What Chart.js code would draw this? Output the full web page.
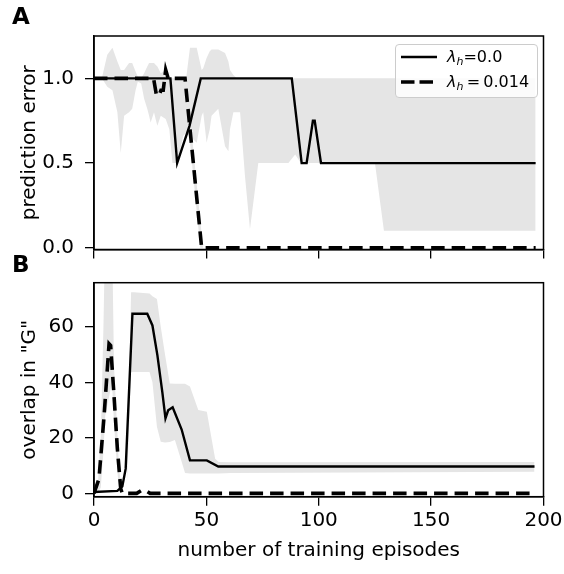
<!DOCTYPE html>
<html>
<head>
<meta charset="utf-8">
<script src="https://cdn.jsdelivr.net/npm/chart.js@4.4.0/dist/chart.umd.min.js"></script>
<style>
  body { margin: 0; background: #fff; font-family: "DejaVu Sans", sans-serif; }
  #wrap { position: relative; width: 564px; height: 574px; overflow: hidden; }
  canvas { position: absolute; left: 0; }
  #chartA { top: 0; }
  #chartB { top: 260px; }
  .panel-label { position: absolute; left: 12px; font-weight: bold; font-size: 23px; line-height: 1; }
  #legend { position: absolute; left: 395px; top: 44px; width: 141px; height: 52px;
            border: 1px solid #cccccc; border-radius: 4px; background: rgba(255,255,255,0.85); }
  .row { position: absolute; left: 0; height: 24px; width: 141px; }
  .row svg { position: absolute; left: 5px; top: 8px; }
  .row span { position: absolute; left: 51px; top: 0; font-size: 16px; line-height: 24px; white-space: nowrap; }
  .row sub { font-size: 11px; vertical-align: -3px; font-style: italic; }
</style>
</head>
<body>
<div id="wrap">
  <canvas id="chartA" width="564" height="260"></canvas>
  <canvas id="chartB" width="564" height="314"></canvas>
  <div class="panel-label" style="top:5px;">A</div>
  <div class="panel-label" style="top:253px;">B</div>
  <div id="legend">
    <div class="row" style="top:0px;">
      <svg width="36" height="8"><line x1="0" y1="4" x2="36" y2="4" stroke="#000" stroke-width="2.4"/></svg>
      <span><i>λ</i><sub>h</sub>=0.0</span>
    </div>
    <div class="row" style="top:25px;">
      <svg width="36" height="8"><line x1="0" y1="4" x2="36" y2="4" stroke="#000" stroke-width="3.6" stroke-dasharray="13.5 5"/></svg>
      <span><i>λ</i><sub>h</sub>&#8201;=&#8201;0.014</span>
    </div>
  </div>
</div>
<script>
// Achsen-Ticks
const xTickValues = [0, 50, 100, 150, 200];
const errTicks = [0, 0.5, 1.0];
const overlapTicks = [0, 20, 40, 60];

// Panel A: prediction error, lambda_h = 0.0 (durchgezogen)
const solidX_A = [0, 34, 37, 42.5, 47.5, 88, 92.4, 94.6, 97.4, 98.2, 101, 196.5];
const solidErr = [1, 1, 0.5, 0.72, 1, 1, 0.5, 0.5, 0.75, 0.75, 0.5, 0.5];

// Panel A: lambda_h = 0.014 (gestrichelt)
const dashX_A = [0, 26.5, 27.8, 29, 29.8, 30.8, 31.9, 33, 40.5, 47.9, 196.5];
const dashErr = [1, 1, 0.9, 0.9, 0.93, 0.93, 1.05, 1, 1, 0, 0];

// Panel A: graues Band
const bandX_A = [0, 3.5, 5.9, 8.2, 10.4, 11.9, 13.4, 15.6, 17, 18.5, 19.5, 21, 22.3, 23.7, 24.5, 25.2, 26.7, 27.4,
                 28.2, 29.7, 31.9, 33.5, 34.9, 37, 39.7, 41, 42.7, 45.7, 47.9, 48.6, 50.1, 51.5, 52.3, 55.3, 58.3,
                 59.8, 60.5, 62, 63.5, 65, 67.2, 69.4, 73.1, 86.5, 89.5, 92, 125, 129, 196.5];
const bandUpper_A = [1, 1, 1.14, 1.18, 1.10, 1.05, 1.05, 1.09, 1.09, 1.04, 1.01, 1.0, 1.03, 1.07, 1.09, 1.09, 1.09, 1.08,
                     1.07, 1.03, 1.05, 1.0, 1.0, 1.0, 1.0, 1.0, 1.18, 1.18, 1.05, 1.06, 1.12, 1.16, 1.17, 1.17, 1.15,
                     1.10, 1.05, 1.02, 1.0, 1.0, 1.0, 1.0, 1.0, 1.0, 1.0, 1.0, 1.0, 1.0, 1.0];
const bandLower_A = [1, 1, 0.95, 0.93, 0.80, 0.56, 0.78, 0.80, 0.82, 0.93, 0.98, 0.97, 0.88, 0.82, 0.78, 0.74, 0.80, 0.76,
                     0.72, 0.78, 0.76, 0.70, 0.50, 0.50, 0.66, 0.68, 0.66, 0.62, 0.78, 0.80, 0.62, 0.70, 0.78, 0.82, 0.60,
                     0.57, 0.70, 0.80, 0.80, 0.80, 0.42, 0.11, 0.50, 0.50, 0.55, 0.50, 0.50, 0.10, 0.10];
const haloX_A = [39.9, 41.1, 47.3, 48.5];
const haloUpper_A = [1.0, 1.0, 0.16, 0.0];
const haloLower_A = [1.0, 0.84, 0.0, 0.0];

// Panel B: overlap in "G"
const solidX_B = [0, 10.4, 12.6, 14.1, 17.1, 23.7, 26, 28.2, 30.4, 31.8, 33, 35, 39, 42.7, 50.2, 55.3, 196];
const solidOverlap = [0.5, 0.9, 2.5, 8.9, 64.7, 64.7, 60.5, 49.8, 36.5, 27, 29.9, 31, 23, 11.9, 11.9, 9.7, 9.7];
const dashX_B = [0, 2.2, 4.5, 6.7, 7.4, 8.9, 10.4, 11.9, 12.6, 19, 21, 23, 25, 196];
const dashOverlap = [0, 5.2, 28, 53.9, 53.3, 35.3, 16.1, 1.6, 0, 0, 1, 1, 0, 0];

const bandX_B = [14.5, 16.5, 17.8, 24.7, 26, 28, 29.7, 31.6, 33.7, 36, 39, 40.5, 42.7, 46.4, 50.2, 53.9, 55.5, 61, 196];
const bandUpper_B = [1, 72.5, 72.5, 72, 71, 70, 60, 50, 39.6, 39.5, 39.5, 39.5, 38.5, 30, 29.4, 12.5, 11.3, 11.2, 11.3];
const bandLower_B = [0, 43.7, 43.7, 43.7, 40, 24, 18.6, 18.3, 18.5, 19.2, 11.4, 7.3, 7.2, 7.2, 7.2, 7.2, 7.2, 7.3, 7.8];
const haloX_B = [1.5, 3, 4.2, 5, 8, 8.9, 10.4, 11.1, 12.4];
const haloUpper_B = [0, 20, 60, 95, 95, 46, 22, 9.6, 0];
const haloLower_B = [0, 2, 15, 28, 40, 25, 8, 2, 0];

Chart.defaults.font.family = "'DejaVu Sans'";
Chart.defaults.color = '#000';

const bandGrey = '#e5e5e5';

function toPoints(xs, ys) {
    return xs.map((x, i) => ({ x: x, y: ys[i] }));
}

function lineSet(xs, ys, dashed) {
    return {
        data: toPoints(xs, ys),
        borderColor: '#000',
        borderWidth: dashed ? 3.6 : 2.4,
        borderDash: dashed ? [13.5, 7] : [],
        pointRadius: 0,
        tension: 0,
        fill: false
    };
}

function bandSets(xs, upper, lower) {
    return [
        { data: toPoints(xs, upper), borderColor: 'rgba(0,0,0,0)', borderWidth: 0, pointRadius: 0,
          backgroundColor: bandGrey, fill: '+1' },
        { data: toPoints(xs, lower), borderColor: 'rgba(0,0,0,0)', borderWidth: 0, pointRadius: 0, fill: false }
    ];
}

// Rahmen um den Plotbereich (alle vier Seiten)
const frameBox = {
    id: 'frameBox',
    afterDatasetsDraw(chart) {
        const a = chart.chartArea;
        const ctx = chart.ctx;
        ctx.save();
        ctx.strokeStyle = '#000';
        ctx.lineWidth = 1.5;
        ctx.strokeRect(a.left, a.top, a.right - a.left, a.bottom - a.top);
        ctx.restore();
    }
};

// Achsengroessen fix setzen, Label-Ueberstand nicht einrechnen
function fixSize(prop, size) {
    return s => {
        s[prop] = size;
        s.paddingTop = 0; s.paddingBottom = 0; s.paddingLeft = 0; s.paddingRight = 0;
    };
}

function makeOptions(yMin, yMax, yTicks, yTitle, yFmt, showX, xHeight, pad) {
    return {
        responsive: false,
        animation: false,
        devicePixelRatio: 1,
        layout: { padding: pad },
        plugins: {
            legend: { display: false },
            tooltip: { enabled: false },
            filler: { drawTime: 'beforeDatasetsDraw' }
        },
        scales: {
            x: {
                type: 'linear',
                min: 0,
                max: 200,
                afterBuildTicks: s => { s.ticks = xTickValues.map(v => ({ value: v })); },
                afterFit: fixSize('height', xHeight),
                grid: { drawOnChartArea: false, color: '#000', lineWidth: 1.3, tickLength: 9 },
                border: { display: true, color: '#000', width: 1.5 },
                ticks: { display: showX, font: { size: 20 }, padding: 3, maxRotation: 0,
                         callback: v => String(v) },
                title: { display: showX, text: 'number of training episodes', font: { size: 20 },
                         padding: { top: 0, bottom: 11 } }
            },
            y: {
                min: yMin,
                max: yMax,
                afterBuildTicks: s => { s.ticks = yTicks.map(v => ({ value: v })); },
                afterFit: fixSize('width', 94),
                grid: { drawOnChartArea: false, color: '#000', lineWidth: 1.3, tickLength: 9 },
                border: { display: true, color: '#000', width: 1.5 },
                ticks: { font: { size: 20 }, padding: 11, callback: yFmt },
                title: { display: true, text: yTitle, font: { size: 20 }, padding: { top: 18, bottom: 0 } }
            }
        }
    };
}

new Chart(document.getElementById('chartA'), {
    type: 'line',
    data: {
        datasets: [
            lineSet(dashX_A, dashErr, true),
            lineSet(solidX_A, solidErr, false),
            ...bandSets(bandX_A, bandUpper_A, bandLower_A),
            ...bandSets(haloX_A, haloUpper_A, haloLower_A)
        ]
    },
    options: makeOptions(-0.01, 1.25, errTicks, 'prediction error', v => v.toFixed(1), false, 10.5,
                         { left: 0, right: 20.5, top: 36, bottom: 0 }),
    plugins: [frameBox]
});

new Chart(document.getElementById('chartB'), {
    type: 'line',
    data: {
        datasets: [
            lineSet(dashX_B, dashOverlap, true),
            lineSet(solidX_B, solidOverlap, false),
            ...bandSets(bandX_B, bandUpper_B, bandLower_B),
            ...bandSets(haloX_B, haloUpper_B, haloLower_B)
        ]
    },
    options: makeOptions(-1.2, 75.9, overlapTicks, 'overlap in "G"', v => String(v), true, 77.3,
                         { left: 0, right: 20.5, top: 22.7, bottom: 0 }),
    plugins: [frameBox]
});
</script>
</body>
</html>
